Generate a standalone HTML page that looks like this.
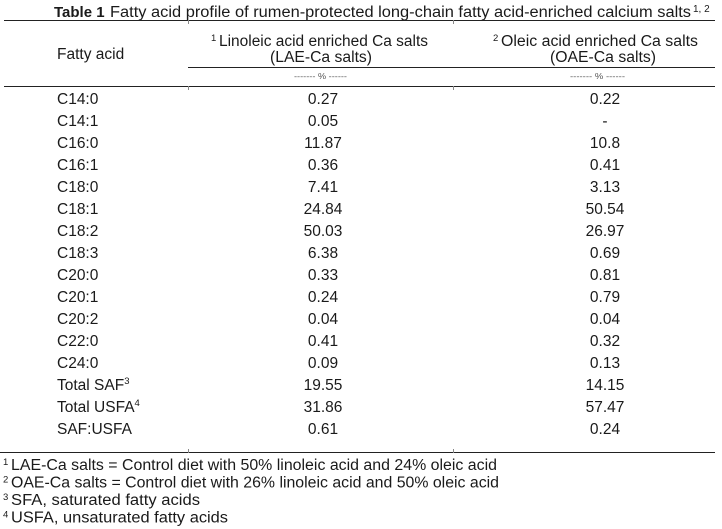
<!DOCTYPE html>
<html>
<head>
<meta charset="utf-8">
<style>
html,body{margin:0;padding:0;background:#fff;}
svg{display:block;}
text{font-family:"Liberation Sans",Arial,sans-serif;fill:#1a1a1a;}
</style>
</head>
<body>
<svg width="722" height="529" viewBox="0 0 722 529" xmlns="http://www.w3.org/2000/svg">
<rect width="722" height="529" fill="#fff"/>

<!-- Title -->
<text x="54" y="17" font-size="15" font-weight="bold">Table 1</text>
<text x="110" y="17" font-size="15.5" textLength="581" lengthAdjust="spacingAndGlyphs">Fatty acid profile of rumen-protected long-chain fatty acid-enriched calcium salts</text>
<text x="693" y="12" font-size="10">1, 2</text>

<!-- Rules -->
<line x1="4" y1="20.5" x2="715" y2="20.5" stroke="#222" stroke-width="1"/>
<line x1="188" y1="67.5" x2="715" y2="67.5" stroke="#222" stroke-width="1"/>
<line x1="4" y1="86.5" x2="715" y2="86.5" stroke="#222" stroke-width="1"/>
<line x1="188.5" y1="20" x2="188.5" y2="24" stroke="#888" stroke-width="1"/>
<line x1="453.5" y1="20" x2="453.5" y2="24" stroke="#888" stroke-width="1"/>
<line x1="188.5" y1="86" x2="188.5" y2="90" stroke="#888" stroke-width="1"/>
<line x1="453.5" y1="86" x2="453.5" y2="90" stroke="#888" stroke-width="1"/>

<!-- Header -->
<text x="57" y="59" font-size="15.5">Fatty acid</text>

<text x="211" y="41" font-size="9.5">1</text>
<text x="219" y="46" font-size="15.5" textLength="209" lengthAdjust="spacingAndGlyphs">Linoleic acid enriched Ca salts</text>
<text x="270" y="62" font-size="15.5" textLength="102" lengthAdjust="spacingAndGlyphs">(LAE-Ca salts)</text>

<text x="493" y="41" font-size="9.5">2</text>
<text x="501" y="46" font-size="15.5" textLength="197" lengthAdjust="spacingAndGlyphs">Oleic acid enriched Ca salts</text>
<text x="550" y="62" font-size="15.5" textLength="106" lengthAdjust="spacingAndGlyphs">(OAE-Ca salts)</text>

<text x="294" y="79" font-size="8" textLength="53" lengthAdjust="spacingAndGlyphs" style="fill:#555">------- % ------</text>
<text x="570" y="79" font-size="8" textLength="55" lengthAdjust="spacingAndGlyphs" style="fill:#555">------- % ------</text>

<!-- Body rows -->
<g font-size="15.5">
<text x="57" y="104">C14:0</text>
<text x="57" y="126">C14:1</text>
<text x="57" y="148">C16:0</text>
<text x="57" y="170">C16:1</text>
<text x="57" y="192">C18:0</text>
<text x="57" y="214">C18:1</text>
<text x="57" y="236">C18:2</text>
<text x="57" y="258">C18:3</text>
<text x="57" y="280">C20:0</text>
<text x="57" y="302">C20:1</text>
<text x="57" y="324">C20:2</text>
<text x="57" y="346">C22:0</text>
<text x="57" y="368">C24:0</text>
<text x="57" y="390">Total SAF<tspan font-size="9.5" dy="-6">3</tspan></text>
<text x="57" y="412">Total USFA<tspan font-size="9.5" dy="-6">4</tspan></text>
<text x="57" y="434">SAF:USFA</text>
</g>

<g font-size="15.5" text-anchor="middle">
<text x="323" y="104">0.27</text>
<text x="323" y="126">0.05</text>
<text x="323" y="148">11.87</text>
<text x="323" y="170">0.36</text>
<text x="323" y="192">7.41</text>
<text x="323" y="214">24.84</text>
<text x="323" y="236">50.03</text>
<text x="323" y="258">6.38</text>
<text x="323" y="280">0.33</text>
<text x="323" y="302">0.24</text>
<text x="323" y="324">0.04</text>
<text x="323" y="346">0.41</text>
<text x="323" y="368">0.09</text>
<text x="323" y="390">19.55</text>
<text x="323" y="412">31.86</text>
<text x="323" y="434">0.61</text>

<text x="605" y="104">0.22</text>
<text x="605" y="126">-</text>
<text x="605" y="148">10.8</text>
<text x="605" y="170">0.41</text>
<text x="605" y="192">3.13</text>
<text x="605" y="214">50.54</text>
<text x="605" y="236">26.97</text>
<text x="605" y="258">0.69</text>
<text x="605" y="280">0.81</text>
<text x="605" y="302">0.79</text>
<text x="605" y="324">0.04</text>
<text x="605" y="346">0.32</text>
<text x="605" y="368">0.13</text>
<text x="605" y="390">14.15</text>
<text x="605" y="412">57.47</text>
<text x="605" y="434">0.24</text>
</g>

<!-- Footer rule -->
<line x1="0" y1="452.5" x2="715" y2="452.5" stroke="#222" stroke-width="1"/>
<line x1="188.5" y1="449" x2="188.5" y2="453" stroke="#888" stroke-width="1"/>
<line x1="453.5" y1="449" x2="453.5" y2="453" stroke="#888" stroke-width="1"/>

<!-- Footnotes -->
<text x="3" y="465" font-size="9.5">1</text>
<text x="11" y="470" font-size="15.5" textLength="486" lengthAdjust="spacingAndGlyphs">LAE-Ca salts = Control diet with 50% linoleic acid and 24% oleic acid</text>
<text x="3" y="482.5" font-size="9.5">2</text>
<text x="11" y="487.5" font-size="15.5" textLength="488" lengthAdjust="spacingAndGlyphs">OAE-Ca salts = Control diet with 26% linoleic acid and 50% oleic acid</text>
<text x="3" y="500" font-size="9.5">3</text>
<text x="11" y="505" font-size="15.5" textLength="189" lengthAdjust="spacingAndGlyphs">SFA, saturated fatty acids</text>
<text x="3" y="517.5" font-size="9.5">4</text>
<text x="11" y="522.5" font-size="15.5" textLength="217" lengthAdjust="spacingAndGlyphs">USFA, unsaturated fatty acids</text>
</svg>
</body>
</html>
